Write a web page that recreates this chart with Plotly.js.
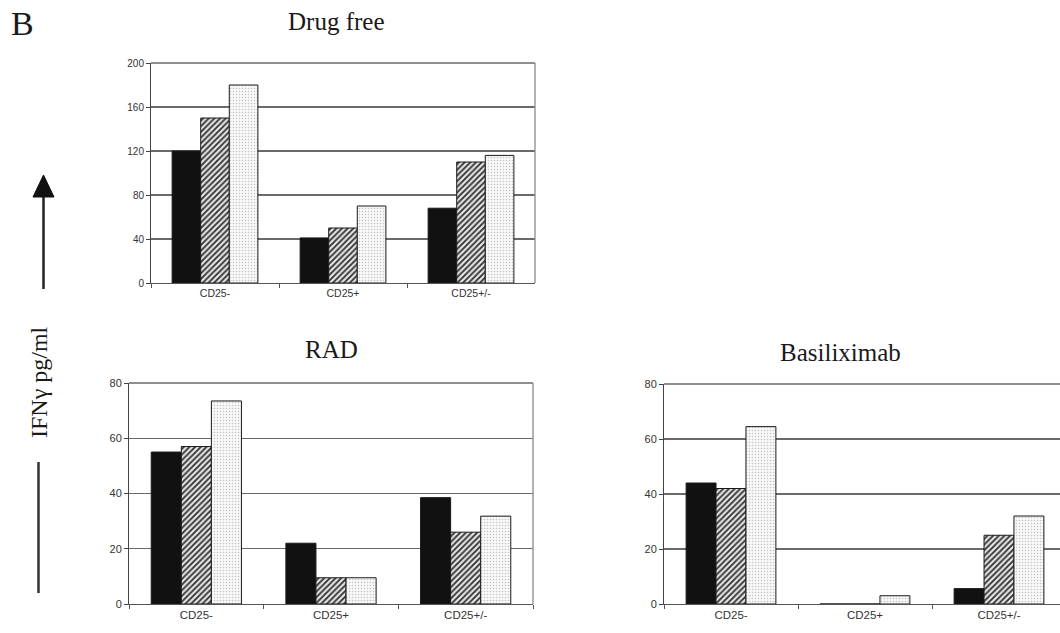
<!DOCTYPE html>
<html>
<head>
<meta charset="utf-8">
<script src="https://cdn.plot.ly/plotly-3.0.1.min.js"></script>
<style>
html,body{margin:0;padding:0;overflow:hidden;background:#fff;}
#chart{width:1070px;height:633px;}
</style>
</head>
<body>
<div id="chart"></div>
<script>
// ---- data ----
var categories = ['CD25-', 'CD25+', 'CD25+/-'];
var panelTitles = ['Drug free', 'RAD', 'Basiliximab'];
var seriesNames = ['Series 1', 'Series 2', 'Series 3'];

var drugFreeBlack   = [120, 41, 68];
var drugFreeHatched = [150, 50, 110];
var drugFreeDotted  = [180, 70, 116];

var radBlack   = [55, 22, 38.5];
var radHatched = [57, 9.5, 26];
var radDotted  = [73.5, 9.5, 31.8];

var basiBlack   = [44, 0, 5.6];
var basiHatched = [42, 0, 25];
var basiDotted  = [64.5, 3, 32];

var topTicks = [0, 40, 80, 120, 160, 200];
var bottomTicks = [0, 20, 40, 60, 80];
var yLabel = 'IFNγ pg/ml';
var panelLetter = 'B';

// ---- layout helpers ----
var W = 1070, H = 633;
function px(x){ return x / W; }
function py(y){ return 1 - y / H; }

var styles = [
  {color: '#111111', pattern: {shape: ''}},
  {color: '#ffffff', pattern: {shape: '/', fgcolor: '#2e2e2e', bgcolor: '#e4e4e4', size: 4, solidity: 0.45}},
  {color: '#f2f2f2', pattern: {shape: '.', fgcolor: '#c4c4c4', bgcolor: '#f8f8f8', size: 3, solidity: 0.22}}
];

var panels = [
  {vals: [drugFreeBlack, drugFreeHatched, drugFreeDotted], xa: 'x', ya: 'y'},
  {vals: [radBlack, radHatched, radDotted], xa: 'x2', ya: 'y2'},
  {vals: [basiBlack, basiHatched, basiDotted], xa: 'x3', ya: 'y3'}
];

var data = [];
panels.forEach(function(p){
  p.vals.forEach(function(v, i){
    data.push({
      type: 'bar', x: categories, y: v, name: seriesNames[i],
      xaxis: p.xa, yaxis: p.ya, showlegend: false, hoverinfo: 'x+y',
      marker: {color: styles[i].color, pattern: styles[i].pattern,
               line: {color: '#1a1a1a', width: 1}}
    });
  });
});

function tickFont(s){ return {family: 'Liberation Sans, Arial, sans-serif', size: s, color: '#333'}; }
function xax(d, anchor, fs){
  return {domain: d, anchor: anchor, type: 'category', showline: true, linecolor: '#555', linewidth: 1,
          ticks: 'outside', tickson: 'boundaries', ticklen: 4, tickcolor: '#555',
          tickfont: tickFont(fs), showgrid: false, zeroline: false, fixedrange: true};
}
function yax(d, anchor, range, ticks, fs){
  return {domain: d, anchor: anchor, range: range, tickvals: ticks, showline: true, linecolor: '#444', linewidth: 1,
          ticks: 'outside', ticklen: 4, tickcolor: '#444', tickfont: tickFont(fs),
          showgrid: true, gridcolor: '#6a6a6a', gridwidth: 1.4, zeroline: false, fixedrange: true};
}

var titleFont = {family: 'Liberation Serif, Times New Roman, serif', size: 25, color: '#1a1a1a'};
function ann(text, x, y, font, extra){
  var a = {text: text, xref: 'paper', yref: 'paper', x: px(x), y: py(y), xanchor: 'center', yanchor: 'middle',
           showarrow: false, font: font};
  if (extra) for (var k in extra) a[k] = extra[k];
  return a;
}
function topLine(xd, yd){
  return {type: 'line', xref: xd, yref: yd, x0: 0, x1: 1, y0: 1, y1: 1, line: {color: '#6a6a6a', width: 1.4}};
}

var layout = {
  width: W, height: H,
  margin: {l: 0, r: 0, t: 0, b: 0},
  paper_bgcolor: '#fff', plot_bgcolor: '#fff',
  barmode: 'group', bargap: 0.33, bargroupgap: 0,
  xaxis:  xax([px(151), px(535)], 'y', 10.5),
  yaxis:  yax([py(283), py(63)], 'x', [0, 200], topTicks, 10),
  xaxis2: xax([px(129), px(533)], 'y2', 11.5),
  yaxis2: yax([py(604), py(383)], 'x2', [0, 80], bottomTicks, 11),
  xaxis3: xax([px(664), px(1066)], 'y3', 11.5),
  yaxis3: yax([py(604), py(384)], 'x3', [0, 80], bottomTicks, 11),
  annotations: [
    ann(panelTitles[0], 336, 22, titleFont),
    ann(panelTitles[1], 331, 349, titleFont),
    ann(panelTitles[2], 840, 352, titleFont),
    ann(panelLetter, 22, 23, {family: 'Liberation Serif, Times New Roman, serif', size: 34, color: '#1a1a1a'}),
    ann(yLabel, 39, 382, {family: 'Liberation Serif, Times New Roman, serif', size: 24, color: '#1a1a1a'}, {textangle: -90})
  ],
  shapes: [
    // top gridlines at max
    topLine('x domain', 'y domain'),
    topLine('x2 domain', 'y2 domain'),
    topLine('x3 domain', 'y3 domain'),
    // right frame borders
    {type: 'line', xref: 'x domain', yref: 'y domain', x0: 1, x1: 1, y0: 0, y1: 1, line: {color: '#8a8a8a', width: 1.3}},
    {type: 'line', xref: 'x2 domain', yref: 'y2 domain', x0: 1, x1: 1, y0: 0, y1: 1, line: {color: '#8a8a8a', width: 1.3}},
    // arrow shaft
    {type: 'line', xref: 'paper', yref: 'paper', x0: px(43.5), x1: px(43.5), y0: py(194), y1: py(289), line: {color: '#222', width: 2.5}},
    // arrow head
    {type: 'path', xref: 'paper', yref: 'paper',
     path: 'M ' + px(43.5) + ' ' + py(175) + ' L ' + px(54) + ' ' + py(197) + ' L ' + px(33) + ' ' + py(197) + ' Z',
     fillcolor: '#111', line: {color: '#111', width: 1}},
    // lower line
    {type: 'line', xref: 'paper', yref: 'paper', x0: px(38.5), x1: px(38.5), y0: py(462), y1: py(593), line: {color: '#333', width: 2.5}}
  ]
};

Plotly.newPlot('chart', data, layout, {displayModeBar: false, staticPlot: true});
</script>
</body>
</html>
